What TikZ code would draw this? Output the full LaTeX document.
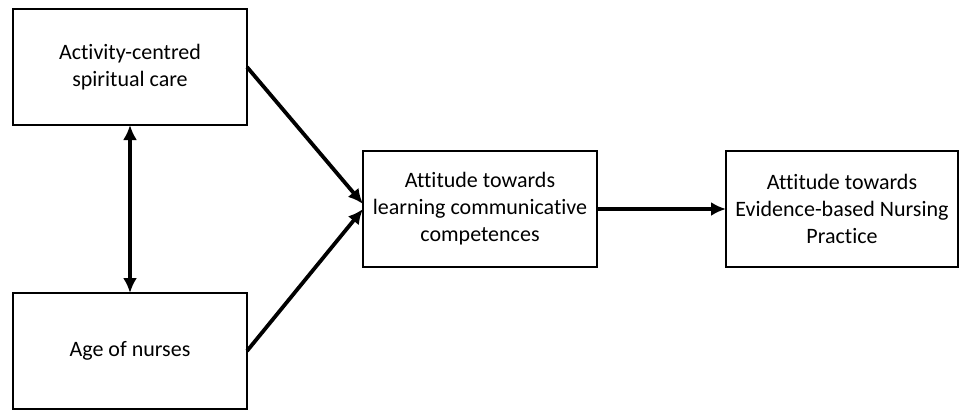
\documentclass[tikz,border=0pt]{standalone}
\usepackage{fontspec}
\setmainfont[Ligatures=NoCommon]{Carlito}
\usetikzlibrary{calc}
\usetikzlibrary{shapes,arrows.meta}

\begin{document}
\begin{tikzpicture}[x=1pt,y=-1pt]

 \tikzset{
    factor/.style={
      rectangle,
      minimum width=234pt,
      minimum height=116pt,
      inner sep=0mm,
      outer sep=0mm,
      align=center,
      font=\fontsize{22}{27}\selectfont,
    draw,
    line width=1.2pt
    },
    link/.style={
      -{Latex[length=15pt,width=14pt]},
      line width=3.8pt
    }
  }

\useasboundingbox (0,0) rectangle (959,410);

\node[factor] (care) at (130,67) {Activity-centred\\spiritual care};
\node[factor] (age) at (130,351) {Age of nurses};
\node[factor] (comm) at (480,209) {Attitude towards\\learning communicative\\competences};
\node[factor,minimum width=232pt] (ebnp) at (842,209) {Attitude towards\\Evidence-based Nursing\\Practice};

\draw[link] (care.east) -- ([yshift=5pt]comm.west);
\draw[link] (age.east) -- (comm.west);
\draw[link,{Latex[length=15pt,width=14pt]}-{Latex[length=15pt,width=14pt]}] (care.south) -- (age.north);
\draw[link] (comm.east) -- (ebnp.west);
\end{tikzpicture}
\end{document}
